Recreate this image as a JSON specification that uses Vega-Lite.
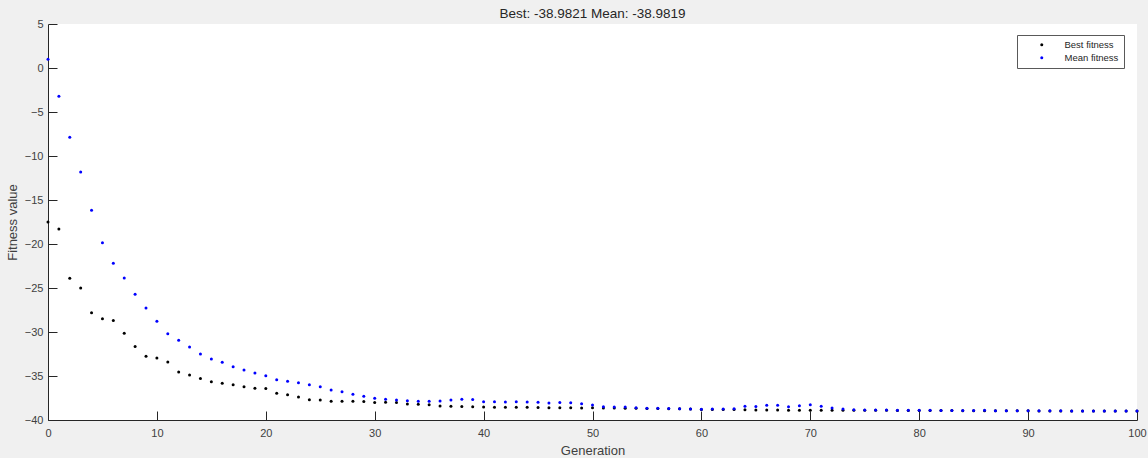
{
  "$schema": "https://vega.github.io/schema/vega-lite/v6.json",
  "autosize": "none",
  "width": 1089,
  "height": 396,
  "padding": {"left": 48, "top": 24, "right": 11, "bottom": 38},
  "background": "#f0f0f0",
  "config": {
    "view": {"fill": "#ffffff", "stroke": null},
    "font": "Liberation Sans",
    "axis": {
      "domainColor": "#262626",
      "tickColor": "#262626",
      "labelColor": "#404040",
      "titleColor": "#404040",
      "labelFont": "Liberation Sans",
      "titleFont": "Liberation Sans",
      "labelFontSize": 11,
      "titleFontSize": 13,
      "titleFontWeight": "normal",
      "grid": false,
      "tickSize": -9,
      "domainWidth": 1
    }
  },
  "title": {
    "text": "Best: -38.9821 Mean: -38.9819",
    "font": "Liberation Sans",
    "fontSize": 13.5,
    "fontWeight": "normal",
    "color": "#262626",
    "offset": -2
  },
  "data": {
    "values": [
      {"g":0,"s":"Best fitness","v":-17.5},{"g":1,"s":"Best fitness","v":-18.3},{"g":2,"s":"Best fitness","v":-23.9},{"g":3,"s":"Best fitness","v":-25.0},{"g":4,"s":"Best fitness","v":-27.8},{"g":5,"s":"Best fitness","v":-28.5},{"g":6,"s":"Best fitness","v":-28.7},{"g":7,"s":"Best fitness","v":-30.15},{"g":8,"s":"Best fitness","v":-31.65},{"g":9,"s":"Best fitness","v":-32.75},
      {"g":10,"s":"Best fitness","v":-32.95},{"g":11,"s":"Best fitness","v":-33.4},{"g":12,"s":"Best fitness","v":-34.55},{"g":13,"s":"Best fitness","v":-34.9},{"g":14,"s":"Best fitness","v":-35.27},{"g":15,"s":"Best fitness","v":-35.64},{"g":16,"s":"Best fitness","v":-35.83},{"g":17,"s":"Best fitness","v":-35.99},{"g":18,"s":"Best fitness","v":-36.21},{"g":19,"s":"Best fitness","v":-36.4},
      {"g":20,"s":"Best fitness","v":-36.42},{"g":21,"s":"Best fitness","v":-36.97},{"g":22,"s":"Best fitness","v":-37.12},{"g":23,"s":"Best fitness","v":-37.39},{"g":24,"s":"Best fitness","v":-37.7},{"g":25,"s":"Best fitness","v":-37.72},{"g":26,"s":"Best fitness","v":-37.86},{"g":27,"s":"Best fitness","v":-37.87},{"g":28,"s":"Best fitness","v":-37.88},{"g":29,"s":"Best fitness","v":-37.89},
      {"g":30,"s":"Best fitness","v":-38.0},{"g":31,"s":"Best fitness","v":-37.99},{"g":32,"s":"Best fitness","v":-38.0},{"g":33,"s":"Best fitness","v":-38.18},{"g":34,"s":"Best fitness","v":-38.22},{"g":35,"s":"Best fitness","v":-38.26},{"g":36,"s":"Best fitness","v":-38.41},{"g":37,"s":"Best fitness","v":-38.45},{"g":38,"s":"Best fitness","v":-38.46},{"g":39,"s":"Best fitness","v":-38.49},
      {"g":40,"s":"Best fitness","v":-38.52},{"g":41,"s":"Best fitness","v":-38.56},{"g":42,"s":"Best fitness","v":-38.56},{"g":43,"s":"Best fitness","v":-38.56},{"g":44,"s":"Best fitness","v":-38.56},{"g":45,"s":"Best fitness","v":-38.57},{"g":46,"s":"Best fitness","v":-38.6},{"g":47,"s":"Best fitness","v":-38.6},{"g":48,"s":"Best fitness","v":-38.61},{"g":49,"s":"Best fitness","v":-38.64},
      {"g":50,"s":"Best fitness","v":-38.62},{"g":51,"s":"Best fitness","v":-38.64},{"g":52,"s":"Best fitness","v":-38.65},{"g":53,"s":"Best fitness","v":-38.66},{"g":54,"s":"Best fitness","v":-38.67},{"g":55,"s":"Best fitness","v":-38.69},{"g":56,"s":"Best fitness","v":-38.7},{"g":57,"s":"Best fitness","v":-38.72},{"g":58,"s":"Best fitness","v":-38.73},{"g":59,"s":"Best fitness","v":-38.76},
      {"g":60,"s":"Best fitness","v":-38.8},{"g":61,"s":"Best fitness","v":-38.8},{"g":62,"s":"Best fitness","v":-38.8},{"g":63,"s":"Best fitness","v":-38.81},{"g":64,"s":"Best fitness","v":-38.84},{"g":65,"s":"Best fitness","v":-38.86},{"g":66,"s":"Best fitness","v":-38.86},{"g":67,"s":"Best fitness","v":-38.86},{"g":68,"s":"Best fitness","v":-38.88},{"g":69,"s":"Best fitness","v":-38.88},
      {"g":70,"s":"Best fitness","v":-38.89},{"g":71,"s":"Best fitness","v":-38.88},{"g":72,"s":"Best fitness","v":-38.88},{"g":73,"s":"Best fitness","v":-38.9},{"g":74,"s":"Best fitness","v":-38.9},{"g":75,"s":"Best fitness","v":-38.9},{"g":76,"s":"Best fitness","v":-38.9},{"g":77,"s":"Best fitness","v":-38.9},{"g":78,"s":"Best fitness","v":-38.91},{"g":79,"s":"Best fitness","v":-38.91},
      {"g":80,"s":"Best fitness","v":-38.92},{"g":81,"s":"Best fitness","v":-38.92},{"g":82,"s":"Best fitness","v":-38.93},{"g":83,"s":"Best fitness","v":-38.93},{"g":84,"s":"Best fitness","v":-38.94},{"g":85,"s":"Best fitness","v":-38.94},{"g":86,"s":"Best fitness","v":-38.94},{"g":87,"s":"Best fitness","v":-38.95},{"g":88,"s":"Best fitness","v":-38.95},{"g":89,"s":"Best fitness","v":-38.96},
      {"g":90,"s":"Best fitness","v":-38.96},{"g":91,"s":"Best fitness","v":-38.97},{"g":92,"s":"Best fitness","v":-38.97},{"g":93,"s":"Best fitness","v":-38.97},{"g":94,"s":"Best fitness","v":-38.975},{"g":95,"s":"Best fitness","v":-38.975},{"g":96,"s":"Best fitness","v":-38.98},{"g":97,"s":"Best fitness","v":-38.98},{"g":98,"s":"Best fitness","v":-38.982},{"g":99,"s":"Best fitness","v":-38.982},{"g":100,"s":"Best fitness","v":-38.9821},
      {"g":0,"s":"Mean fitness","v":1.0},{"g":1,"s":"Mean fitness","v":-3.22},{"g":2,"s":"Mean fitness","v":-7.88},{"g":3,"s":"Mean fitness","v":-11.82},{"g":4,"s":"Mean fitness","v":-16.17},{"g":5,"s":"Mean fitness","v":-19.85},{"g":6,"s":"Mean fitness","v":-22.2},{"g":7,"s":"Mean fitness","v":-23.86},{"g":8,"s":"Mean fitness","v":-25.72},{"g":9,"s":"Mean fitness","v":-27.27},
      {"g":10,"s":"Mean fitness","v":-28.79},{"g":11,"s":"Mean fitness","v":-30.19},{"g":12,"s":"Mean fitness","v":-30.95},{"g":13,"s":"Mean fitness","v":-31.7},{"g":14,"s":"Mean fitness","v":-32.5},{"g":15,"s":"Mean fitness","v":-33.07},{"g":16,"s":"Mean fitness","v":-33.45},{"g":17,"s":"Mean fitness","v":-33.94},{"g":18,"s":"Mean fitness","v":-34.32},{"g":19,"s":"Mean fitness","v":-34.66},
      {"g":20,"s":"Mean fitness","v":-34.96},{"g":21,"s":"Mean fitness","v":-35.42},{"g":22,"s":"Mean fitness","v":-35.61},{"g":23,"s":"Mean fitness","v":-35.76},{"g":24,"s":"Mean fitness","v":-35.99},{"g":25,"s":"Mean fitness","v":-36.21},{"g":26,"s":"Mean fitness","v":-36.59},{"g":27,"s":"Mean fitness","v":-36.78},{"g":28,"s":"Mean fitness","v":-37.08},{"g":29,"s":"Mean fitness","v":-37.3},
      {"g":30,"s":"Mean fitness","v":-37.54},{"g":31,"s":"Mean fitness","v":-37.63},{"g":32,"s":"Mean fitness","v":-37.73},{"g":33,"s":"Mean fitness","v":-37.8},{"g":34,"s":"Mean fitness","v":-37.86},{"g":35,"s":"Mean fitness","v":-37.87},{"g":36,"s":"Mean fitness","v":-37.85},{"g":37,"s":"Mean fitness","v":-37.72},{"g":38,"s":"Mean fitness","v":-37.64},{"g":39,"s":"Mean fitness","v":-37.68},
      {"g":40,"s":"Mean fitness","v":-37.92},{"g":41,"s":"Mean fitness","v":-37.93},{"g":42,"s":"Mean fitness","v":-37.95},{"g":43,"s":"Mean fitness","v":-37.93},{"g":44,"s":"Mean fitness","v":-37.95},{"g":45,"s":"Mean fitness","v":-37.99},{"g":46,"s":"Mean fitness","v":-38.07},{"g":47,"s":"Mean fitness","v":-38.02},{"g":48,"s":"Mean fitness","v":-38.04},{"g":49,"s":"Mean fitness","v":-38.15},
      {"g":50,"s":"Mean fitness","v":-38.3},{"g":51,"s":"Mean fitness","v":-38.5},{"g":52,"s":"Mean fitness","v":-38.51},{"g":53,"s":"Mean fitness","v":-38.53},{"g":54,"s":"Mean fitness","v":-38.6},{"g":55,"s":"Mean fitness","v":-38.66},{"g":56,"s":"Mean fitness","v":-38.67},{"g":57,"s":"Mean fitness","v":-38.7},{"g":58,"s":"Mean fitness","v":-38.71},{"g":59,"s":"Mean fitness","v":-38.75},
      {"g":60,"s":"Mean fitness","v":-38.78},{"g":61,"s":"Mean fitness","v":-38.76},{"g":62,"s":"Mean fitness","v":-38.75},{"g":63,"s":"Mean fitness","v":-38.72},{"g":64,"s":"Mean fitness","v":-38.45},{"g":65,"s":"Mean fitness","v":-38.48},{"g":66,"s":"Mean fitness","v":-38.33},{"g":67,"s":"Mean fitness","v":-38.32},{"g":68,"s":"Mean fitness","v":-38.49},{"g":69,"s":"Mean fitness","v":-38.37},
      {"g":70,"s":"Mean fitness","v":-38.28},{"g":71,"s":"Mean fitness","v":-38.45},{"g":72,"s":"Mean fitness","v":-38.64},{"g":73,"s":"Mean fitness","v":-38.75},{"g":74,"s":"Mean fitness","v":-38.83},{"g":75,"s":"Mean fitness","v":-38.86},{"g":76,"s":"Mean fitness","v":-38.87},{"g":77,"s":"Mean fitness","v":-38.87},{"g":78,"s":"Mean fitness","v":-38.88},{"g":79,"s":"Mean fitness","v":-38.88},
      {"g":80,"s":"Mean fitness","v":-38.9},{"g":81,"s":"Mean fitness","v":-38.9},{"g":82,"s":"Mean fitness","v":-38.91},{"g":83,"s":"Mean fitness","v":-38.92},{"g":84,"s":"Mean fitness","v":-38.92},{"g":85,"s":"Mean fitness","v":-38.93},{"g":86,"s":"Mean fitness","v":-38.89},{"g":87,"s":"Mean fitness","v":-38.94},{"g":88,"s":"Mean fitness","v":-38.94},{"g":89,"s":"Mean fitness","v":-38.95},
      {"g":90,"s":"Mean fitness","v":-38.95},{"g":91,"s":"Mean fitness","v":-38.96},{"g":92,"s":"Mean fitness","v":-38.96},{"g":93,"s":"Mean fitness","v":-38.96},{"g":94,"s":"Mean fitness","v":-38.97},{"g":95,"s":"Mean fitness","v":-38.97},{"g":96,"s":"Mean fitness","v":-38.975},{"g":97,"s":"Mean fitness","v":-38.98},{"g":98,"s":"Mean fitness","v":-38.98},{"g":99,"s":"Mean fitness","v":-38.981},{"g":100,"s":"Mean fitness","v":-38.9819}
    ]
  },
  "mark": {"type": "circle", "size": 9, "opacity": 1},
  "encoding": {
    "x": {
      "field": "g", "type": "quantitative",
      "scale": {"domain": [0, 100], "nice": false},
      "axis": {"title": "Generation", "values": [0,10,20,30,40,50,60,70,80,90,100], "labelPadding": 16, "titlePadding": 6, "labelFlush": false}
    },
    "y": {
      "field": "v", "type": "quantitative",
      "scale": {"domain": [-40, 5], "nice": false, "zero": false},
      "axis": {"title": "Fitness value", "values": [-40,-35,-30,-25,-20,-15,-10,-5,0,5], "labelPadding": 14, "titlePadding": 5, "labelFlush": false}
    },
    "color": {
      "field": "s", "type": "nominal",
      "scale": {"domain": ["Best fitness", "Mean fitness"], "range": ["#000000", "#0000ff"]},
      "legend": {
        "title": null,
        "orient": "none",
        "legendX": 969,
        "legendY": 11,
        "fillColor": "#ffffff",
        "strokeColor": "#595959",
        "padding": 5,
        "symbolType": "circle",
        "symbolSize": 9,
        "symbolOffset": 15,
        "labelOffset": 18,
        "labelFont": "Liberation Sans",
        "labelFontSize": 9.5,
        "labelColor": "#262626",
        "rowPadding": 2
      }
    }
  }
}
